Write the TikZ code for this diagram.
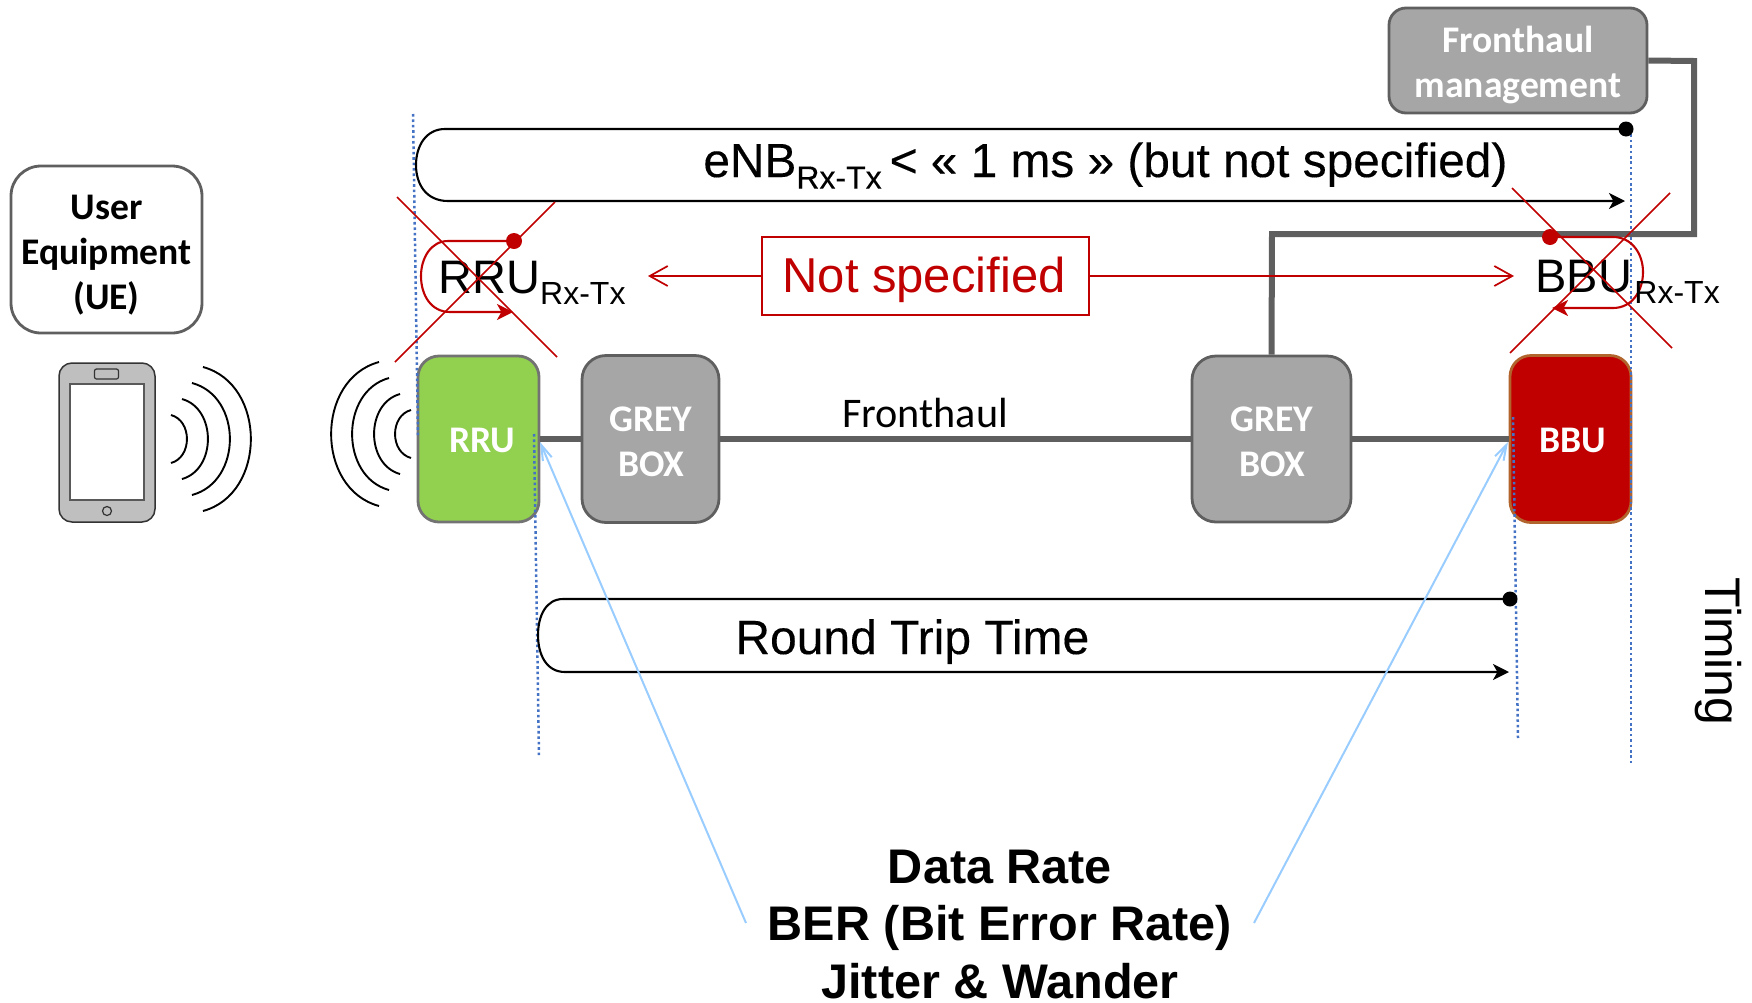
\documentclass[tikz,border=0pt]{standalone}
\usepackage{fontspec}
\setmainfont{Liberation Sans}
\newfontfamily\carl{Carlito}
\newfontfamily\heavy[FakeBold=0.25]{Liberation Sans}
\usetikzlibrary{arrows.meta,positioning}
\definecolor{gbox}{HTML}{A6A6A6}
\definecolor{gline}{HTML}{5F5F5F}
\definecolor{rred}{HTML}{C00000}
\definecolor{dotb}{HTML}{4472C4}
\definecolor{lblue}{HTML}{99CCFF}
\definecolor{rgreen}{HTML}{92D050}
\newcommand{\rxtx}{\raisebox{-5.8pt}{\fontsize{16}{16}\selectfont Rx-Tx}}
\tikzset{
  x=0.5pt,y=-0.5pt,
  boxbase/.style={inner sep=0pt,line width=1.4pt},
  boxtext/.style={inner sep=0pt,align=center,font=\carl\bfseries\fontsize{18.8}{22.5}\selectfont,text=white},
  greybox/.style={boxbase,draw=gline,fill=gbox,rounded corners=12pt},
  bigtext/.style={inner sep=0pt,anchor=base west,font=\fontsize{23.5}{28}\selectfont},
  bottext/.style={inner sep=0pt,anchor=base,font=\bfseries\fontsize{24.3}{28}\selectfont},
  grayline/.style={draw=gline,line width=3pt,miter limit=10},
  dotline/.style={draw=dotb,line width=1.25pt,dash pattern=on 1.3pt off 1.4pt},
  blueline/.style={draw=lblue,line width=1pt,-{Straight Barb[length=8pt,width=11pt,angle=35:8pt]}},
  redline/.style={draw=rred,line width=0.85pt,-{Straight Barb[length=9pt,width=10pt]}},
  cross/.style={draw=rred,line width=0.8pt},
  blackarc/.style={draw=black,line width=1.05pt,-{Stealth[length=8pt,width=8pt,inset=2.2pt]}},
  redarc/.style={draw=rred,line width=1.05pt,-{Stealth[length=8pt,width=8pt,inset=2.2pt]}},
  wave/.style={draw=black,line width=0.95pt},
  dotk/.style={circle,fill=black,inner sep=0pt,minimum size=7.5pt},
  dotr/.style={circle,fill=rred,inner sep=0pt,minimum size=8pt},
}
\begin{document}
\begin{tikzpicture}
\useasboundingbox (0,0) rectangle (1752,1002);
% boxes
\node[boxbase,draw=gline,fill=white,rounded corners=15pt,minimum width=95.5pt,minimum height=83.5pt] (ue) at (106.5,249.5) {};
\node[boxtext,text=black] (uetxt) at (106.5,255) {User\\Equipment\\(UE)};
\node[boxbase,draw=gray!90!black,fill=rgreen,rounded corners=10.5pt,minimum width=60.5pt,minimum height=83pt] (rru) at (478.5,439) {};
\node[greybox,minimum width=68.5pt,minimum height=83.5pt] (g1) at (650.5,439) {};
\node[greybox,minimum width=79.5pt,minimum height=83pt] (g2) at (1271.5,439) {};
\node[boxbase,draw={rgb,255:red,178;green,100;blue,45},fill=rred,rounded corners=10.5pt,minimum width=60.5pt,minimum height=83.5pt] (bbu) at (1570.5,439) {};
\node[greybox,rounded corners=8.5pt,minimum width=129pt,minimum height=52.5pt] (fm) at (1518,60.5) {};
\node[boxtext] (g1t) at (651,442) {GREY\\BOX};
\node[boxtext] (g2t) at (1272,442) {GREY\\BOX};
\node[boxtext] (rrut) at (482,440) {RRU};
\node[boxtext] (bbut) at (1573,440) {BBU};
\node[boxtext] (fmt) at (1518,65) {Fronthaul\\management};
% grey connectors
\draw[grayline] (rru.east) -- (g1.west);
\draw[grayline] (g1.east) -- (g2.west);
\draw[grayline] (g2.east) -- (bbu.west);
\coordinate (m1) at (1694,61);
\coordinate (m2) at (1694,234);
\coordinate (m3) at (1272,234);
\draw[grayline] (fm.east) -- (m1) -- (m2) -- (m3) -- (g2.north);
% phone
\node[draw=black!80,line width=0.75pt,fill=black!25,rounded corners=6.5pt,minimum width=48pt,minimum height=79.5pt,inner sep=0pt] (phone) at (107,442.5) {};
\node[draw=black!65,line width=0.75pt,fill=white,minimum width=37pt,minimum height=58pt,inner sep=0pt] (screen) at (107,442) {};
\node[draw=black!80,line width=0.6pt,rounded corners=1pt,minimum width=12pt,minimum height=5pt,inner sep=0pt] (spk) at (106.5,374) {};
\node[draw=black!80,line width=0.6pt,circle,minimum size=4.5pt,inner sep=0pt] (btn) at (107,511) {};
% waves
\foreach \a/\b/\t/\c in {171/187/415/463,182/208/399/479,192/230/383/495,203/251/367/511,
                         411/395/410/458,400/374/394/474,389/352/378/490,379/331/362/506}
  \draw[wave] (\a,\t) .. controls ({\a+1.33*(\b-\a)},{\t+0.12*(\c-\t)}) and ({\a+1.33*(\b-\a)},{\c-0.12*(\c-\t)}) .. (\a,\c);
% dotted
\coordinate (d1a) at (413,114); \coordinate (d1b) at (418,436);
\coordinate (d2a) at (534,434); \coordinate (d2b) at (539,756);
\coordinate (d3a) at (1513,417); \coordinate (d3b) at (1518,738);
\coordinate (d4a) at (1631,129); \coordinate (d4b) at (1631,763);
\draw[dotline] (d1a) -- (d1b);
\draw[dotline] (d2a) -- (d2b);
\draw[dotline] (d3a) -- (d3b);
\draw[dotline] (d4a) -- (d4b);
% eNB bracket
\node[dotk] (ed) at (1626,129) {};
\coordinate (et) at (1625,201);
\draw[blackarc] (ed.center) -- (445,129) .. controls (426,129) and (416,146) .. (416,165) .. controls (416,184) and (426,201) .. (448,201) -- (et);
\node[bigtext,font=\heavy\fontsize{23.9}{28}\selectfont] (enb) at (703,177) {eNB\rxtx\,< « 1 ms » (but not specified)};
% RTT bracket
\node[dotk] (rd) at (1510,599) {};
\coordinate (rt) at (1509,672);
\draw[blackarc] (rd.center) -- (563,599) .. controls (546,599) and (538,616) .. (538,635) .. controls (538,654) and (546,672) .. (565,672) -- (rt);
\node[bigtext,font=\heavy\fontsize{24}{28}\selectfont] (rtt) at (735,654) {Round Trip Time};
% red small brackets
\node[dotr] (r1d) at (514,241) {};
\coordinate (r1t) at (513,312);
\draw[redarc] (r1d.center) -- (448,241) .. controls (431,241) and (421,258) .. (421,276) .. controls (421,295) and (431,312) .. (450,312) -- (r1t);
\node[dotr] (b1d) at (1550,237) {};
\coordinate (b1t) at (1552,308);
\draw[redarc] (b1d.center) -- (1613,237) .. controls (1632,237) and (1643,254) .. (1643,272) .. controls (1643,291) and (1632,308) .. (1613,308) -- (b1t);
\node[bigtext] (rrul) at (438,293) {RRU\rxtx};
\node[bigtext] (bbul) at (1535,292) {BBU\kern1.2pt\rxtx};
% crosses
\coordinate (c1) at (397,197); \coordinate (c2) at (557,357);
\coordinate (c3) at (555,202); \coordinate (c4) at (395,362);
\coordinate (c5) at (1512,188); \coordinate (c6) at (1672,348);
\coordinate (c7) at (1670,193); \coordinate (c8) at (1510,353);
\draw[cross] (c1) -- (c2);
\draw[cross] (c3) -- (c4);
\draw[cross] (c5) -- (c6);
\draw[cross] (c7) -- (c8);
% not specified
\node[draw=rred,line width=0.8pt,inner sep=0pt,minimum width=163.5pt,minimum height=39pt] (ns) at (925.5,276) {};
\node[inner sep=0pt,anchor=base,text=rred,font=\fontsize{24.5}{28}\selectfont] (nst) at (924,292) {Not specified};
\coordinate (nl) at (648,276);
\coordinate (nr) at (1514,276);
\draw[redline] (ns.west) -- (nl);
\draw[redline] (ns.east) -- (nr);
% fronthaul label
\node[inner sep=0pt,anchor=base,font=\carl\fontsize{21.1}{24}\selectfont] (fh) at (925,427) {Fronthaul};
% timing
\node[bigtext,rotate=-90,font=\fontsize{25}{28}\selectfont] (tim) at (1705,577) {Timing};
% bottom text
\node[bottext] (bot1) at (1000,883) {Data Rate};
\node[bottext] (bot2) at (1000,940) {BER (Bit Error Rate)};
\node[bottext] (bot3) at (1000,998) {Jitter \& Wander};
\coordinate (bl) at (746,923);
\coordinate (br) at (1254,923);
\coordinate (tl) at (540,442);
\coordinate (tr) at (1508,442);
\draw[blueline] (bl) -- (tl);
\draw[blueline] (br) -- (tr);
\end{tikzpicture}
\end{document}
